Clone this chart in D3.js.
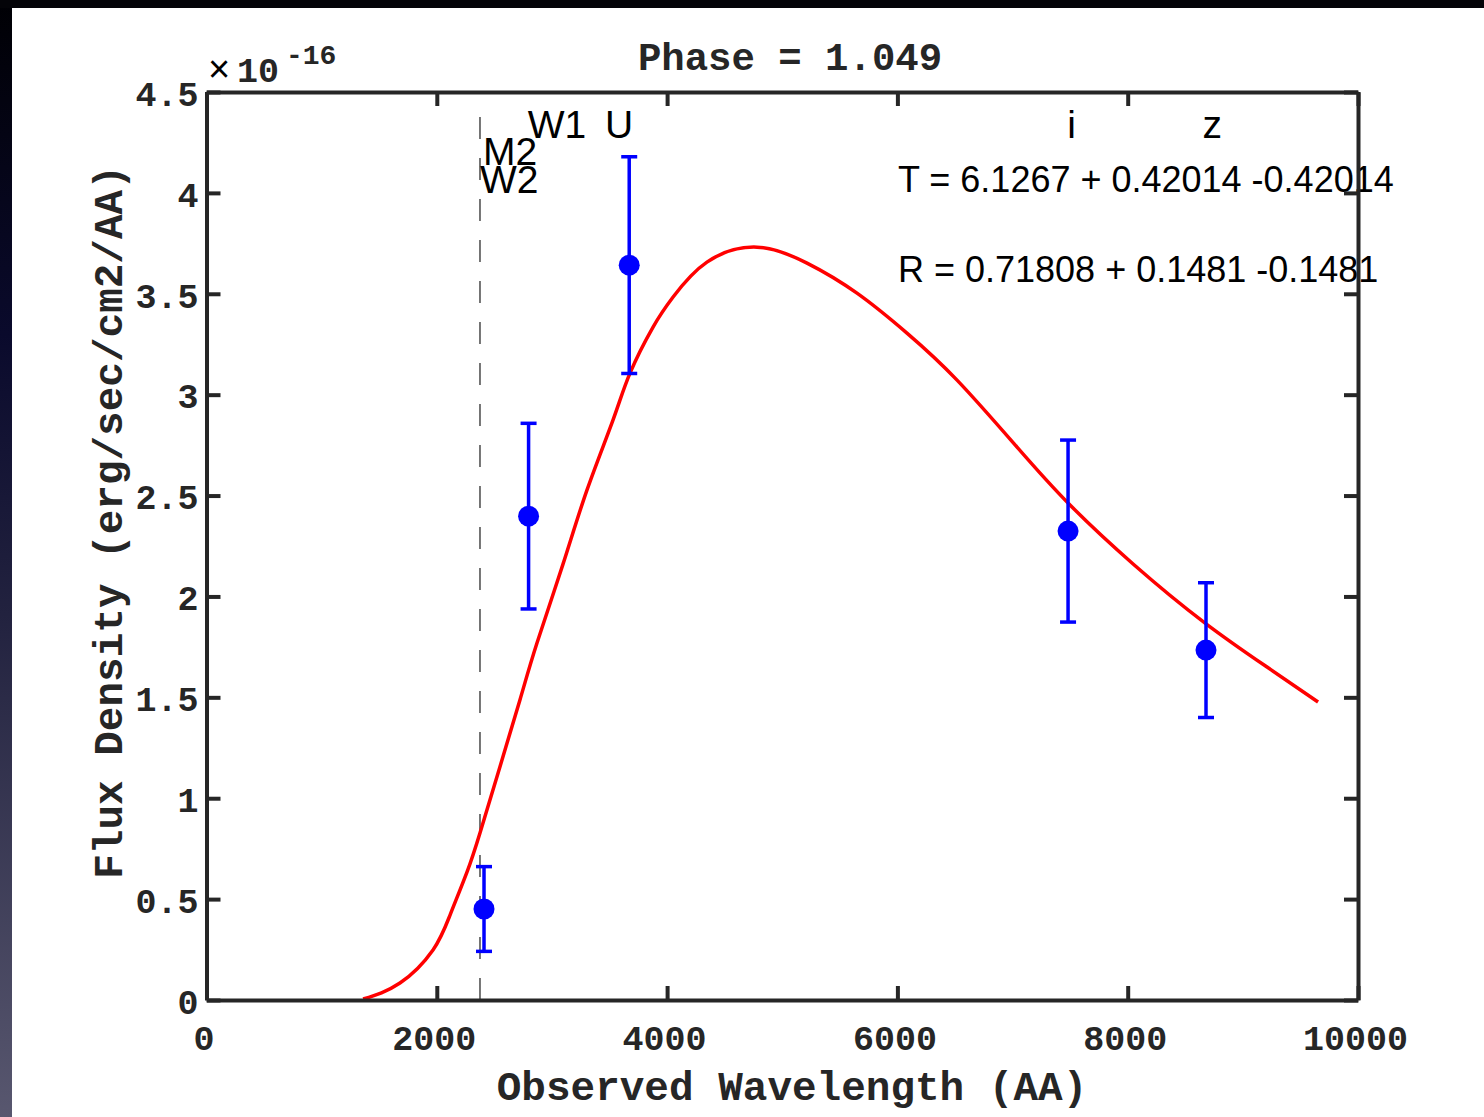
<!DOCTYPE html>
<html>
<head>
<meta charset="utf-8">
<script src="https://cdn.jsdelivr.net/npm/d3@7"></script>
<style>
  body { margin: 0; background: #ffffff; }
  svg { display: block; }
  .mono { font-family: "Liberation Mono", "Courier New", monospace; font-weight: bold; fill: #262626; }
  .sans { font-family: "Liberation Sans", Arial, Helvetica, sans-serif; fill: #000; }
</style>
</head>
<body>
<svg id="chart" width="1484" height="1117"></svg>
<script>
// observed photometry (flux in 1e-16 erg/s/cm2/AA)
var pointWave = [2410, 2797, 3671, 7482, 8680];
var pointFlux = [0.451, 2.398, 3.642, 2.324, 1.734];
var pointErr  = [0.21, 0.46, 0.537, 0.451, 0.334];

// blackbody fit
var fitWave = [1360, 1680, 1967, 2115, 2262, 2375, 2548, 2722, 2870, 3096, 3304, 3530, 3678, 3878,
               4052, 4346, 4781, 5215, 5649, 6083, 6518, 7039, 7482, 8047, 8672, 9210, 9653];
var fitFlux = [0.005, 0.084, 0.248, 0.421, 0.634, 0.828, 1.155, 1.487, 1.769, 2.16, 2.527, 2.874, 3.107, 3.335,
               3.484, 3.657, 3.731, 3.652, 3.503, 3.305, 3.072, 2.740, 2.463, 2.161, 1.868, 1.650, 1.477];

// filter labels
var filterNames = ["W2", "M2", "W1", "U", "i", "z"];
var filterWave  = [2375, 2401, 2790, 3460, 7475, 8650];
var filterFlux  = [3.999, 4.138, 4.272, 4.272, 4.272, 4.272];

var markerWave = 2375;   // dashed marker line

var xTicks = [0, 2000, 4000, 6000, 8000, 10000];
var yTicks = [0, 0.5, 1, 1.5, 2, 2.5, 3, 3.5, 4, 4.5];

var fitText = ["T = 6.1267 + 0.42014 -0.42014", "R = 0.71808 + 0.1481 -0.1481"];
var fitTextFlux = [4.004, 3.558];
var fitTextWave = 6005;

var svg = d3.select("#chart");

// --- backdrop (dark frame around the screenshot) ---
var defs = svg.append("defs");
var grad = defs.append("linearGradient").attr("id", "side").attr("x1", 0).attr("y1", 0).attr("x2", 0).attr("y2", 1);
grad.append("stop").attr("offset", "0%").attr("stop-color", "#000004");
grad.append("stop").attr("offset", "30%").attr("stop-color", "#0a0a2c");
grad.append("stop").attr("offset", "55%").attr("stop-color", "#22223f");
grad.append("stop").attr("offset", "100%").attr("stop-color", "#58576f");

svg.append("rect").attr("width", 1484).attr("height", 1117).attr("fill", "#ffffff");
svg.append("rect").attr("x", 0).attr("y", 0).attr("width", 12).attr("height", 1117).attr("fill", "url(#side)");
svg.append("rect").attr("x", 0).attr("y", 0).attr("width", 1484).attr("height", 8).attr("fill", "#040408");

// --- scales ---  (note: "top" is taken by window.top, so use plot* names)
var plotL = 206.5, plotR = 1358, plotT = 92, plotB = 1000;
var x = d3.scaleLinear().domain([0, 10000]).range([plotL, plotR]);
var y = d3.scaleLinear().domain([0, 4.5]).range([plotB, plotT]);

var g = svg.append("g");

// dashed marker line
g.append("line")
  .attr("x1", x(markerWave)).attr("x2", x(markerWave))
  .attr("y1", y(0)).attr("y2", y(4.43))
  .attr("stroke", "#555").attr("stroke-width", 1.6)
  .attr("stroke-dasharray", "22,19");

// fit curve (natural spline keeps it smooth through the read-off points)
var line = d3.line()
  .x(function (d, i) { return x(fitWave[i]); })
  .y(function (d, i) { return y(fitFlux[i]); })
  .curve(d3.curveNatural);

g.append("path")
  .datum(fitWave)
  .attr("d", line)
  .attr("fill", "none")
  .attr("stroke", "#ff0000")
  .attr("stroke-width", 3.5);

// error bars + points
var pts = g.selectAll("g.pt").data(pointWave).enter().append("g").attr("class", "pt");

pts.append("line")
  .attr("x1", function (d) { return x(d); })
  .attr("x2", function (d) { return x(d); })
  .attr("y1", function (d, i) { return y(pointFlux[i] - pointErr[i]); })
  .attr("y2", function (d, i) { return y(pointFlux[i] + pointErr[i]); })
  .attr("stroke", "#0000ff").attr("stroke-width", 3.5);

[-1, 1].forEach(function (s) {
  pts.append("line")
    .attr("x1", function (d) { return x(d) - 8; })
    .attr("x2", function (d) { return x(d) + 8; })
    .attr("y1", function (d, i) { return y(pointFlux[i] + s * pointErr[i]); })
    .attr("y2", function (d, i) { return y(pointFlux[i] + s * pointErr[i]); })
    .attr("stroke", "#0000ff").attr("stroke-width", 3.5);
});

pts.append("circle")
  .attr("cx", function (d) { return x(d); })
  .attr("cy", function (d, i) { return y(pointFlux[i]); })
  .attr("r", 10.5)
  .attr("fill", "#0000ff");

// filter labels
g.selectAll("text.filt").data(filterNames).enter().append("text")
  .attr("class", "sans filt")
  .attr("x", function (d, i) { return x(filterWave[i]); })
  .attr("y", function (d, i) { return y(filterFlux[i]); })
  .attr("font-size", 39)
  .text(function (d) { return d; });

// fit parameter text
g.selectAll("text.fit").data(fitText).enter().append("text")
  .attr("class", "sans fit")
  .attr("x", x(fitTextWave))
  .attr("y", function (d, i) { return y(fitTextFlux[i]); })
  .attr("font-size", 36)
  .text(function (d) { return d; });

// --- axes (ticks inside, box all round) ---
function style(ax) {
  ax.attr("font-family", null).attr("font-size", null);
  ax.select(".domain").attr("stroke", "#262626").attr("stroke-width", 4);
  ax.selectAll(".tick line").attr("stroke", "#262626").attr("stroke-width", 4);
}

var xAxis = svg.append("g").attr("transform", "translate(0," + plotB + ")")
  .call(d3.axisBottom(x).tickValues(xTicks).tickSizeInner(-14).tickSizeOuter(0).tickPadding(25)
        .tickFormat(function (d) { return String(d); }));
style(xAxis);
xAxis.selectAll(".tick text").attr("class", "mono").attr("font-size", 35).attr("dx", -3);

var xTop = svg.append("g").attr("transform", "translate(0," + plotT + ")")
  .call(d3.axisTop(x).tickValues(xTicks).tickSizeInner(-14).tickSizeOuter(0).tickFormat(""));
style(xTop);

var yAxis = svg.append("g").attr("transform", "translate(" + plotL + ",0)")
  .call(d3.axisLeft(y).tickValues(yTicks).tickSizeInner(-14).tickSizeOuter(0).tickPadding(8)
        .tickFormat(function (d) { return String(d); }));
style(yAxis);
yAxis.selectAll(".tick text").attr("class", "mono").attr("font-size", 35).attr("dy", "0.38em");

var yRight = svg.append("g").attr("transform", "translate(" + plotR + ",0)")
  .call(d3.axisRight(y).tickValues(yTicks).tickSizeInner(-14).tickSizeOuter(0).tickFormat(""));
style(yRight);

// exponent
svg.append("text").attr("class", "sans").attr("x", 208).attr("y", 82).attr("font-size", 38).attr("fill", "#262626").text("\u00d7");
svg.append("text").attr("class", "mono").attr("x", 237).attr("y", 82).attr("font-size", 35).text("10");
svg.append("text").attr("class", "mono").attr("x", 286).attr("y", 64).attr("font-size", 28).text("-16");

// title and axis labels
svg.append("text").attr("class", "mono").attr("x", 790).attr("y", 70)
  .attr("text-anchor", "middle").attr("font-size", 39).text("Phase = 1.049");

svg.append("text").attr("class", "mono").attr("x", 792).attr("y", 1100)
  .attr("text-anchor", "middle").attr("font-size", 41).text("Observed Wavelength (AA)");

svg.append("text").attr("class", "mono")
  .attr("transform", "translate(122,522) rotate(-90)")
  .attr("text-anchor", "middle").attr("font-size", 41).text("Flux Density (erg/sec/cm2/AA)");
</script>
</body>
</html>
